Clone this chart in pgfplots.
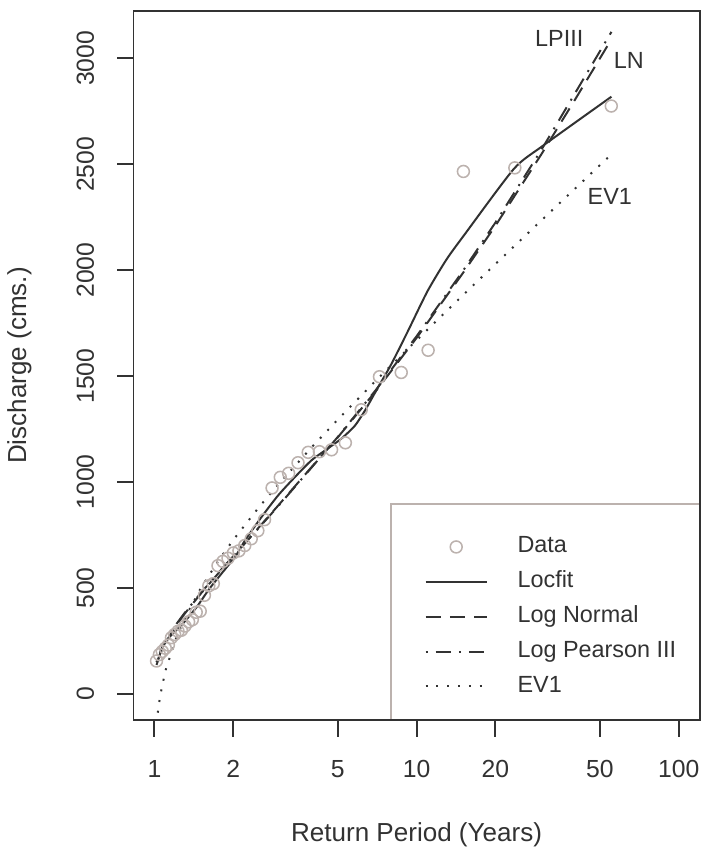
\documentclass[border=0pt]{standalone}
\usepackage{pgfplots}
\pgfplotsset{compat=1.18}
\usepackage{fontspec}
\setmainfont{Liberation Sans}
\definecolor{ink}{RGB}{50,50,50}
\definecolor{ptgray}{RGB}{188,178,174}
\begin{document}
\begin{tikzpicture}
\begin{axis}[
 at={(0pt,0pt)}, anchor=south west,
 scale only axis, width=256.5pt, height=321.3pt,
 xmode=log, xmin=0.83176, xmax=120.23, ymin=-124, ymax=3224,
 axis line style={ink, line width=0.9pt},
 every tick/.style={ink, line width=0.9pt},
 tick align=outside, major tick length=7.5pt,
 xtick={1,2,5,10,20,50,100}, xticklabels={1,2,5,10,20,50,100},
 minor xtick={}, minor ytick={},
 ytick={0,500,1000,1500,2000,2500,3000}, yticklabels={0,500,1000,1500,2000,2500,3000},
 xtick pos=bottom, ytick pos=left,
 /pgf/number format/assume math mode=true,
 xticklabel style={anchor=base, font=\fontsize{11.2}{13}\selectfont, text=ink},
 xticklabel shift=18.6pt,
 yticklabel style={anchor=base, rotate=90, font=\fontsize{11.2}{13}\selectfont, text=ink},
 yticklabel shift=10.5pt,
 xlabel={Return Period (Years)}, ylabel={Discharge (cms.)},
 every axis x label/.style={at={(axis description cs:0.5,-0.1709)}, anchor=base, font=\fontsize{11.8}{14}\selectfont, text=ink},
 every axis y label/.style={at={(axis description cs:-0.1895,0.5)}, anchor=base, rotate=90, font=\fontsize{11.8}{14}\selectfont, text=ink},
 axis on top,
 legend cell align=left,
 legend style={draw=none, fill=none, at={(axis description cs:0.5135,0.2600)}, anchor=north west,
   inner sep=0pt, row sep=6.0pt, column sep=13.5pt,
   nodes={inner sep=0pt, text height=7.6pt, text depth=2.2pt, font=\fontsize{10.6}{12}\selectfont, text=ink}},
 legend image code/.code={\draw[mark repeat=2,mark phase=2,#1] plot coordinates {(0pt,0pt) (13.85pt,0pt) (27.7pt,0pt)};},
]
\draw[ptgray, line width=0.7pt] (axis description cs:0.4549,0) rectangle (axis description cs:1,0.3049);

\addplot[only marks, mark=o, mark size=2.7pt, ptgray, line width=0.7pt] coordinates {
(55.33,2775) (23.71,2483) (15.09,2466) (11.07,1622) (8.74,1517) (7.22,1497)
(6.15,1341) (5.35,1185) (4.74,1152) (4.26,1143) (3.86,1140) (3.53,1091)
(3.25,1041) (3.02,1022) (2.81,972) (2.63,822) (2.48,770) (2.34,732)
(2.21,700) (2.10,675) (2.00,665) (1.908,640) (1.824,625) (1.747,605)
(1.677,520) (1.612,510) (1.551,465) (1.495,390) (1.443,385) (1.395,350)
(1.350,340) (1.307,320) (1.267,300) (1.230,295) (1.194,280) (1.161,265)
(1.130,230) (1.100,215) (1.071,200) (1.044,185) (1.018,155)
};
\addlegendentry{Data}

\addplot[ink, line width=0.9pt, smooth, tension=0.4] coordinates {
(1.024,150) (1.075,220) (1.14,267) (1.28,330) (1.45,410) (1.616,494) (1.815,572)
(2.04,650) (2.225,728) (2.573,838) (2.974,939) (3.446,1025) (3.98,1103)
(4.61,1160) (5.17,1205) (5.81,1265) (6.36,1338) (7.13,1447) (8.0,1555)
(9.25,1710) (11.0,1900) (13.0,2050) (15.2,2166) (23.5,2478) (30.4,2588) (55.4,2819)
};
\addlegendentry{Locfit}

\addplot[ink, line width=0.9pt, dash pattern=on 7pt off 4pt] coordinates {
(1.018,136) (1.05,188) (1.1,240) (1.2,316) (1.3,376) (1.5,472) (1.75,568)
(2,650) (2.5,785) (3,896) (4,1074) (5,1210) (7,1430) (10,1680) (15,1985)
(20,2210) (30,2549) (40,2800) (55.4,3090)
};
\addlegendentry{Log Normal}

\addplot[ink, line width=0.9pt, dash pattern=on 0.9pt off 3.6pt on 7pt off 3.6pt] coordinates {
(1.018,150) (1.05,198) (1.1,248) (1.2,322) (1.3,380) (1.5,475) (1.75,570)
(2,650) (2.5,783) (3,893) (4,1072) (5,1212) (7,1435) (10,1688) (15,1995)
(20,2225) (30,2570) (40,2830) (55.4,3125)
};
\addlegendentry{Log Pearson III}

\addplot[ink, line width=0.9pt, dash pattern=on 0.9pt off 4pt] coordinates {
(1.02,-140) (1.03,-88) (1.05,-13) (1.1,107) (1.2,252) (1.3,353) (1.5,497)
(1.75,627) (2,727) (2.5,880) (3,995) (4,1167) (5,1294) (7,1479) (10,1669)
(15,1881) (20,2029) (30,2236) (40,2382) (55.4,2547)
};
\addlegendentry{EV1}

\node[font=\fontsize{10.6}{12}\selectfont, text=ink] at (axis cs:35.04,3096) {LPIII};
\node[font=\fontsize{10.6}{12}\selectfont, text=ink] at (axis cs:64.5,2989) {LN};
\node[font=\fontsize{10.6}{12}\selectfont, text=ink] at (axis cs:54.6,2346) {EV1};
\end{axis}
\path[use as bounding box] (-60.3pt,-58.05pt) rectangle (258.75pt,326.25pt);
\end{tikzpicture}
\end{document}
